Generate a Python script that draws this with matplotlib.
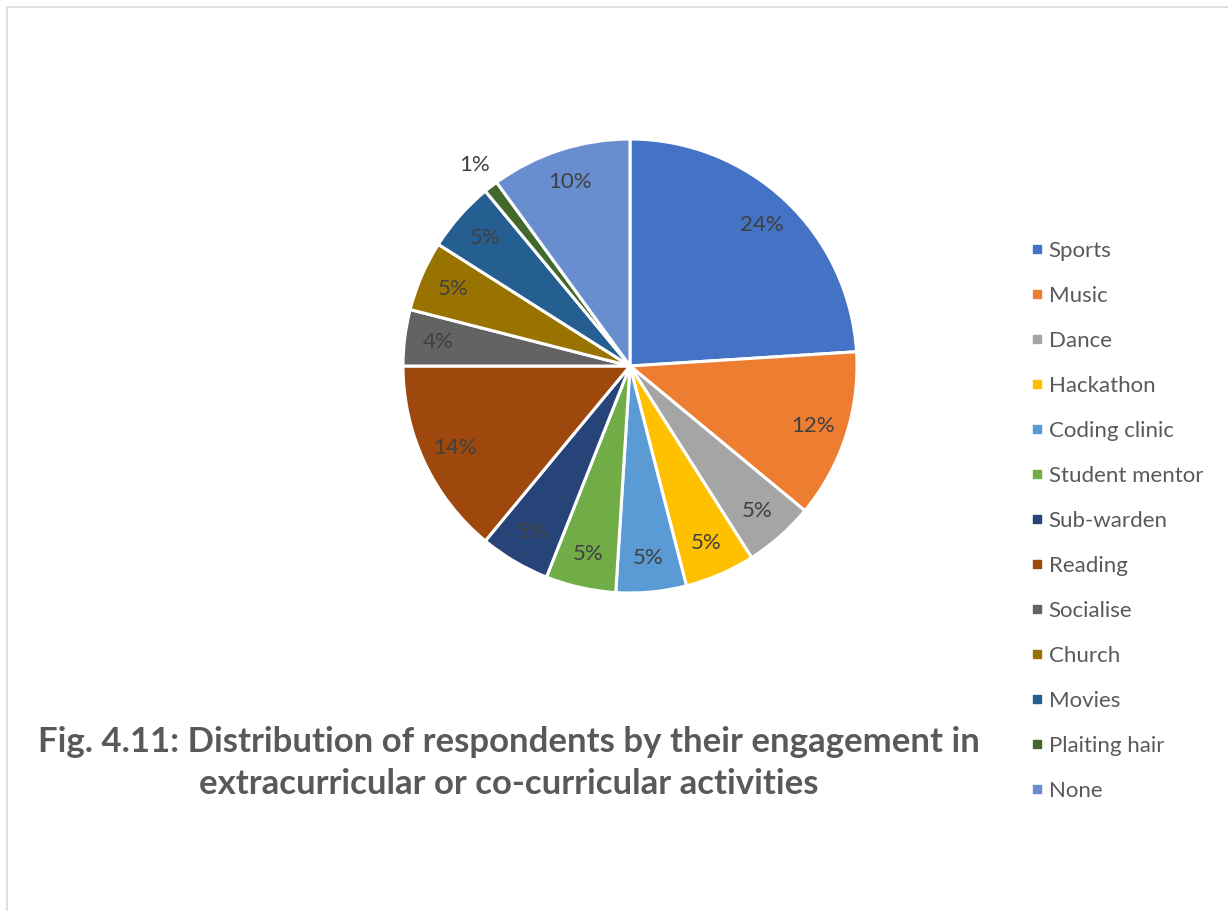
import matplotlib
matplotlib.use("Agg")
import matplotlib.pyplot as plt
from matplotlib.lines import Line2D
from matplotlib.patches import Rectangle
import numpy as np

activities = ["Sports", "Music", "Dance", "Hackathon", "Coding clinic", "Student mentor",
              "Sub-warden", "Reading", "Socialise", "Church", "Movies", "Plaiting hair", "None"]
shares = [24, 12, 5, 5, 5, 5, 5, 14, 4, 5, 5, 1, 10]
colors = ["#4472C4", "#ED7D31", "#A5A5A5", "#FFC000", "#5B9BD5", "#70AD47",
          "#264478", "#9E480E", "#636363", "#997300", "#255E91", "#43682B", "#698ED0"]
title = ("Fig. 4.11: Distribution of respondents by their engagement in\n"
         "extracurricular or co-curricular activities")

W, H = 1228, 911
fig = plt.figure(figsize=(W / 100, H / 100), dpi=100)
plt.rcParams["font.family"] = ["Lato", "DejaVu Sans"]

# chart-area frame (only top and left edges fall inside the canvas)
fig.patches.append(Rectangle((7 / W, -0.1), 1.2, 1 - 7 / H + 0.1, transform=fig.transFigure,
                             fill=False, edgecolor="#D9D9D9", lw=1.2))

cx, cy, r = 630, 366, 227
ax = fig.add_axes([(cx - r) / W, (H - cy - r) / H, 2 * r / W, 2 * r / H])
wedges, _ = ax.pie(shares, colors=colors, startangle=90, counterclock=False, radius=1,
                   wedgeprops=dict(edgecolor="white", linewidth=2.2))
ax.set_xlim(-1, 1); ax.set_ylim(-1, 1); ax.set_aspect("equal"); ax.axis("off")

total = sum(shares)
start = 90.0
for v in shares:
    mid = np.deg2rad(start - 360 * v / total / 2)
    rr = 1.12 if v < 2 else 0.85
    ax.text(rr * np.cos(mid), rr * np.sin(mid), f"{v}%", ha="center", va="center",
            fontsize=16, color="#404040")
    start -= 360 * v / total

handles = [Line2D([], [], ls="none", marker="s", markersize=6, markerfacecolor=c,
                  markeredgecolor=c) for c in colors]
fig.legend(handles, activities, loc="upper left", bbox_to_anchor=(1023 / W, 1 - 232 / H),
           frameon=False, fontsize=16, labelcolor="#595959", handlelength=0.5,
           handletextpad=0.25, labelspacing=1.125, borderaxespad=0)

fig.text(509 / W, 1 - 763 / H, title, ha="center", va="center", fontsize=25,
         fontweight="bold", color="#595959", linespacing=1.42)

fig.savefig("out.png", dpi=100)
